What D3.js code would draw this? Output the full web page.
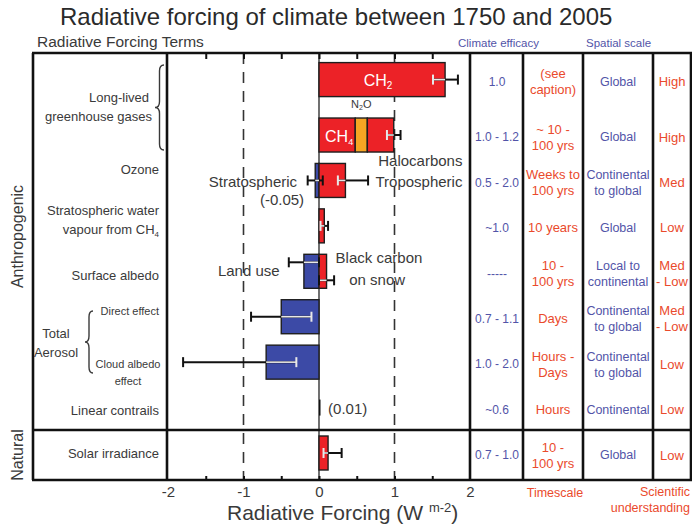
<!DOCTYPE html>
<html>
<head>
<meta charset="utf-8">
<script src="https://cdn.jsdelivr.net/npm/d3@7"></script>
<style>
  html, body { margin: 0; padding: 0; background: #fff; }
  svg { display: block; font-family: "Liberation Sans", Arial, Helvetica, sans-serif; }
</style>
</head>
<body>
<svg id="chart" width="692" height="529"></svg>
<script>
// ---------------- DATA ----------------
const rows = ["co2", "ghg", "ozone", "h2o", "albedo", "direct", "cloud", "contrails", "solar"];
const terms = ["CO2", "CH4", "N2O", "Halocarbons", "Stratospheric ozone", "Tropospheric ozone",
  "Stratospheric water vapour", "Land use", "Black carbon on snow", "Direct effect",
  "Cloud albedo effect", "Linear contrails", "Solar irradiance"];
const termRow = ["co2", "ghg", "ghg", "ghg", "ozone", "ozone", "h2o", "albedo", "albedo",
  "direct", "cloud", "contrails", "solar"];
const forcing = [1.67, 0.48, 0.16, 0.35, -0.05, 0.35, 0.07, -0.2, 0.1, -0.5, -0.7, 0.01, 0.12];
const errLow = [1.51, null, null, 0.90, -0.15, 0.25, 0.02, -0.4, 0.0, -0.9, -1.8, null, 0.06];
const errHigh = [1.84, null, null, 1.08, 0.05, 0.65, 0.12, 0.0, 0.2, -0.1, -0.3, null, 0.30];
const xTicks = [-2, -1, 0, 1, 2];
const xMinorTicks = [-1.5, -1, -0.5, 0, 0.5, 1, 1.5];

const leftLabels = [
  ["Long-lived", "greenhouse gases"], ["Ozone"], ["Stratospheric water", "vapour from CH₄"],
  ["Surface albedo"], ["Direct effect"], ["Cloud albedo", "effect"], ["Linear contrails"], ["Solar irradiance"]
];
const efficacy = ["1.0", "1.0 - 1.2", "0.5 - 2.0", "~1.0", "-----", "0.7 - 1.1", "1.0 - 2.0", "~0.6", "0.7 - 1.0"];
const timescale = [["(see", "caption)"], ["~ 10 -", "100 yrs"], ["Weeks to", "100 yrs"], ["10 years"],
  ["10 -", "100 yrs"], ["Days"], ["Hours -", "Days"], ["Hours"], ["10 -", "100 yrs"]];
const spatial = [["Global"], ["Global"], ["Continental", "to global"], ["Global"], ["Local to", "continental"],
  ["Continental", "to global"], ["Continental", "to global"], ["Continental"], ["Global"]];
const understanding = [["High"], ["High"], ["Med"], ["Low"], ["Med", "- Low"], ["Med", "- Low"], ["Low"], ["Low"], ["Low"]];

// ---------------- LAYOUT ----------------
const svg = d3.select("#chart");
const RED = "#ec2227", BLUE = "#3c4aa6", ORANGE = "#f6a623", EDGE = "#1e1e1e";
const TXT = "#3a3a3a", CBLUE = "#5254a8", CRED = "#ea4a2c";
const yTop = 53, yBottom = 480, natY = 430;
const x = d3.scaleLinear().domain([-2, 2]).range([168, 470]);
const yP = d3.scalePoint().domain(rows).range([89.6, 453]);
const rowY = r => yP(r) + (r === "co2" ? -10 : 0);
const barH = 34;

// dashed guides
svg.selectAll("line.dash").data([-1, 1]).join("line")
  .attr("x1", d => x(d)).attr("x2", d => x(d)).attr("y1", yTop).attr("y2", yBottom)
  .attr("stroke", "#333").attr("stroke-width", 1.6).attr("stroke-dasharray", "11,8");
// zero line
svg.append("line").attr("x1", x(0)).attr("x2", x(0)).attr("y1", yTop).attr("y2", yBottom)
  .attr("stroke", "#111").attr("stroke-width", 1.2);

// stack bars
const bars = [];
const posCum = {}, negCum = {};
terms.forEach((t, i) => {
  const r = termRow[i], v = forcing[i];
  let x0, x1;
  if (v >= 0) { x0 = posCum[r] || 0; x1 = x0 + v; posCum[r] = x1; }
  else { x1 = negCum[r] || 0; x0 = x1 + v; negCum[r] = x0; }
  const color = t === "N2O" ? ORANGE : (v < 0 ? BLUE : RED);
  bars.push({ t, r, v, x0, x1, color, lo: errLow[i], hi: errHigh[i] });
});

svg.selectAll("rect.bar").data(bars).join("rect")
  .attr("x", d => x(d.x0))
  .attr("y", d => rowY(d.r) - (d.r === "contrails" ? 8 : barH / 2))
  .attr("width", d => Math.max(1.5, x(d.x1) - x(d.x0)))
  .attr("height", d => d.r === "contrails" ? 16 : barH)
  .attr("fill", d => d.r === "contrails" ? "#111" : d.color)
  .attr("stroke", EDGE).attr("stroke-width", d => d.r === "contrails" ? 0 : 1.4);

// error bars
const errShift = { "Land use": -9, "Black carbon on snow": 9 };
const rowExtent = {};
bars.forEach(b => {
  if (!rowExtent[b.r]) rowExtent[b.r] = [0, 0];
  rowExtent[b.r][0] = Math.min(rowExtent[b.r][0], b.x0);
  rowExtent[b.r][1] = Math.max(rowExtent[b.r][1], b.x1);
});
const errG = svg.append("g");
bars.filter(b => b.lo !== null).forEach(b => {
  const ey = rowY(b.r) + (errShift[b.t] || 0);
  const bx0 = x(b.t === "Halocarbons" ? rowExtent[b.r][0] : b.x0), bx1 = x(b.t === "Halocarbons" ? rowExtent[b.r][1] : b.x1);
  const ex0 = x(b.lo), ex1 = x(b.hi);
  errG.append("line").attr("x1", ex0).attr("x2", ex1).attr("y1", ey).attr("y2", ey)
    .attr("stroke", "#111").attr("stroke-width", 2);
  const i0 = Math.max(ex0, bx0), i1 = Math.min(ex1, bx1);
  if (i1 > i0 + 1) {
    errG.append("line").attr("x1", i0).attr("x2", i1).attr("y1", ey).attr("y2", ey)
      .attr("stroke", "#e8e8e8").attr("stroke-width", 1.6);
  }
  [ex0, ex1].forEach(cx => {
    const inside = cx > bx0 + 1 && cx < bx1 - 1;
    errG.append("line").attr("x1", cx).attr("x2", cx).attr("y1", ey - 5).attr("y2", ey + 5)
      .attr("stroke", inside ? "#e8e8e8" : "#111").attr("stroke-width", 2);
  });
});

// in-bar and annotation labels
function chem(xp, yp, parts, color, size, subSize) {
  const t = svg.append("text").attr("x", xp).attr("y", yp).attr("text-anchor", "middle")
    .attr("fill", color).attr("font-size", size);
  parts.forEach(([s, isSub], k) => {
    const prevSub = k > 0 && parts[k - 1][1];
    const ts = t.append("tspan").text(s);
    if (isSub) ts.attr("font-size", subSize).attr("dy", "0.35em");
    else if (prevSub) ts.attr("dy", "-" + (0.35 * subSize / size) + "em");
  });
  return t;
}
const co2 = bars[0], ch4 = bars[1], n2o = bars[2];
chem(x((co2.x0 + co2.x1) / 2) - 4, rowY("co2") + 6, [["CH", false], ["2", true]], "#fff", 16, 10);
chem(x((ch4.x0 + ch4.x1) / 2) + 2, rowY("ghg") + 7, [["CH", false], ["4", true]], "#fff", 16, 9);
chem(x((n2o.x0 + n2o.x1) / 2), rowY("ghg") - 27, [["N", false], ["2", true], ["O", false]], TXT, 11, 7);

const annot = [
  { t: "Halocarbons", xv: 1.9, dy: -20, anchor: "end", row: "ozone" },
  { t: "Tropospheric", xv: 1.9, dy: 1, anchor: "end", row: "ozone" },
  { t: "Stratospheric", xv: -0.29, dy: 1, anchor: "end", row: "ozone" },
  { t: "(-0.05)", xv: -0.49, dy: 19, anchor: "middle", row: "ozone" },
  { t: "Land use", xv: -0.93, dy: -1, anchor: "middle", row: "albedo" },
  { t: "Black carbon", xv: 0.22, dy: -14, anchor: "start", row: "albedo" },
  { t: "on snow", xv: 0.77, dy: 8, anchor: "middle", row: "albedo" },
  { t: "(0.01)", xv: 0.12, dy: 1, anchor: "start", row: "contrails" }
];
svg.selectAll("text.annot").data(annot).join("text")
  .attr("x", d => x(d.xv)).attr("y", d => rowY(d.row) + d.dy)
  .attr("dy", "0.35em").attr("text-anchor", d => d.anchor)
  .attr("fill", TXT).attr("font-size", 15).text(d => d.t);

// axes
const axB = svg.append("g").attr("transform", `translate(0,${yBottom})`)
  .call(d3.axisBottom(x).tickValues(xMinorTicks).tickSize(-4).tickFormat(""));
const axT = svg.append("g").attr("transform", `translate(0,${yTop})`)
  .call(d3.axisTop(x).tickValues(xMinorTicks).tickSize(-6).tickFormat(""));
[axB, axT].forEach(a => { a.select(".domain").remove(); a.selectAll("line").attr("stroke", "#111").attr("stroke-width", 2); });
const axL = svg.append("g").attr("transform", `translate(0,${yBottom})`)
  .call(d3.axisBottom(x).tickValues(xTicks).tickSize(0).tickPadding(6).tickFormat(d3.format("d")));
axL.select(".domain").remove();
axL.selectAll("text").attr("font-size", 15).attr("fill", TXT).attr("font-family", "Liberation Sans, Arial, sans-serif")
  .text(d => d < 0 ? "-" + Math.abs(d) : d);

const at = svg.append("text").attr("x", 227).attr("y", 520).attr("font-size", 21).attr("fill", TXT);
at.append("tspan").text("Radiative Forcing (W ");
at.append("tspan").attr("font-size", 13).attr("dy", -8).text("m-2");
at.append("tspan").attr("dy", 8).text(")");

// table frame
const frame = svg.append("g").attr("stroke", "#111").attr("stroke-width", 2.6).attr("fill", "none");
const vlines = [33, 167, 470, 523, 583, 653, 691];
vlines.forEach(vx => frame.append("line").attr("x1", vx).attr("x2", vx).attr("y1", yTop).attr("y2", yBottom));
[yTop, natY, yBottom].forEach(hy => frame.append("line").attr("x1", 32).attr("x2", 692).attr("y1", hy).attr("y2", hy));

// headers
svg.append("text").attr("x", 60).attr("y", 25).attr("font-size", 24).attr("fill", "#2a2a2a")
  .text("Radiative forcing of climate between 1750 and 2005");
svg.append("text").attr("x", 37).attr("y", 47).attr("font-size", 15.5).attr("fill", TXT).text("Radiative Forcing Terms");
svg.append("text").attr("x", 458).attr("y", 47).attr("font-size", 11.5).attr("fill", CBLUE).text("Climate efficacy");
svg.append("text").attr("x", 586).attr("y", 47).attr("font-size", 11.5).attr("fill", CBLUE).text("Spatial scale");
svg.append("text").attr("x", 555).attr("y", 497).attr("text-anchor", "middle").attr("font-size", 12.5).attr("fill", CRED).text("Timescale");
svg.append("text").attr("x", 690).attr("y", 496).attr("text-anchor", "end").attr("font-size", 12.5).attr("fill", CRED).text("Scientific");
svg.append("text").attr("x", 690).attr("y", 512).attr("text-anchor", "end").attr("font-size", 12.5).attr("fill", CRED).text("understanding");

// left labels
const labelRows = ["co2ghg", "ozone", "h2o", "albedo", "direct", "cloud", "contrails", "solar"];
const labelShift = { co2ghg: 0, ozone: -11, h2o: -6, albedo: 4, direct: -6, cloud: 10, contrails: 3, solar: 0 };
const labelX = { co2ghg: 152, direct: 159, cloud: 159 };
const labelSize = { direct: 11, cloud: 11 };
labelRows.forEach((lr, i) => {
  const cy = (lr === "co2ghg" ? (rowY("co2") + rowY("ghg")) / 2 : rowY(lr)) + labelShift[lr];
  const lines = leftLabels[i];
  const lh = lr === "cloud" ? 17 : 19;
  lines.forEach((ln, j) => {
    const yy = cy + (j - (lines.length - 1) / 2) * lh;
    const xx = lr === "cloud" ? 128 : (lr === "co2ghg" && j === 0 ? 149 : (labelX[lr] || 159));
    const t = svg.append("text").attr("text-anchor", lr === "cloud" ? "middle" : "end")
      .attr("font-size", labelSize[lr] || 13).attr("fill", TXT).attr("x", xx).attr("y", yy).attr("dy", "0.35em");
    if (ln.includes("₄")) {
      t.append("tspan").text("vapour from CH");
      t.append("tspan").attr("font-size", 8).attr("dy", "0.35em").text("4");
    } else t.text(ln);
  });
});
const tA = svg.append("text").attr("text-anchor", "middle").attr("font-size", 13).attr("fill", TXT);
tA.append("tspan").attr("x", 56).attr("y", 338).text("Total");
tA.append("tspan").attr("x", 56).attr("y", 357).text("Aerosol");

function brace(xl, y0, y1, w) {
  const m = (y0 + y1) / 2, xm = xl + w / 2, r = Math.min(6, (y1 - y0) / 6);
  return `M${xl + w},${y0} Q${xm},${y0} ${xm},${y0 + r} L${xm},${m - r} Q${xm},${m} ${xl},${m} ` +
    `Q${xm},${m} ${xm},${m + r} L${xm},${y1 - r} Q${xm},${y1} ${xl + w},${y1}`;
}
svg.append("path").attr("d", brace(155, 65, 150, 9)).attr("fill", "none").attr("stroke", TXT).attr("stroke-width", 1.4);
svg.append("path").attr("d", brace(85, 311, 373, 8)).attr("fill", "none").attr("stroke", TXT).attr("stroke-width", 1.4);

svg.append("text").attr("transform", `translate(23,${(yTop + natY) / 2 - 5}) rotate(-90)`)
  .attr("text-anchor", "middle").attr("font-size", 16).attr("fill", TXT).text("Anthropogenic");
svg.append("text").attr("transform", `translate(23,${(natY + yBottom) / 2}) rotate(-90)`)
  .attr("text-anchor", "middle").attr("font-size", 16).attr("fill", TXT).text("Natural");

// right columns
function cell(cx, r, lines, color, size) {
  const cy = rowY(r) + 2;
  const t = svg.append("text").attr("text-anchor", "middle").attr("font-size", size).attr("fill", color);
  lines.forEach((ln, j) => t.append("tspan").attr("x", cx).attr("y", cy + (j - (lines.length - 1) / 2) * 16)
    .attr("dy", "0.35em").text(ln));
}
rows.forEach((r, i) => {
  cell(497, r, [efficacy[i]], CBLUE, 12);
  cell(553, r, timescale[i], CRED, 13);
  cell(618, r, spatial[i], CBLUE, 12.5);
  cell(672, r, understanding[i], CRED, 13);
});
</script>
</body>
</html>
